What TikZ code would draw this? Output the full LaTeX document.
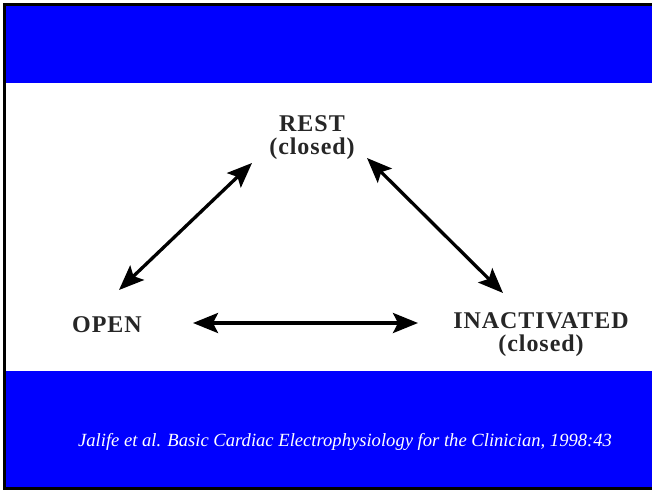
\documentclass[tikz,border=0pt]{standalone}
\usepackage{fontspec}
\setmainfont{Liberation Serif}
\usetikzlibrary{arrows.meta}
\definecolor{slideblue}{RGB}{0,0,255}
\tikzset{
  state/.style={font=\bfseries\fontsize{24}{23}\selectfont\addfontfeature{LetterSpace=4}, align=center, inner sep=0pt, text=black!85},
  arr/.style={line width=3.3pt, {Stealth[length=25pt,width=20pt,inset=5pt]}-{Stealth[length=25pt,width=20pt,inset=5pt]}},
  cite/.style={font=\itshape\fontsize{18.6}{18.6}\selectfont, text=white, inner sep=0pt}
}
\begin{document}
\begin{tikzpicture}[x=1pt,y=-1pt]
\useasboundingbox (0,0) rectangle (652,490);
% bands
\fill[slideblue] (5,5) rectangle (652,83);
\fill[white] (5,83) rectangle (652,371);
\fill[slideblue] (5,371) rectangle (652,488);
% frame
\fill[black] (3,3) rectangle (652,6);
\fill[black] (3,3) rectangle (6,489);
\fill[black] (3,487) rectangle (652,489.5);
% states
\node[state] (rest) at (312,137.5) {REST\\(closed)};
\node[state] (open) at (107,325) {OPEN};
\node[state] (inact) at (541,334.5) {INACTIVATED\\(closed)};
% arrow ends
\coordinate (o1) at ([shift={(12,-35)}]open.center);
\coordinate (r1) at ([shift={(-60,25.5)}]rest.center);
\coordinate (r2) at ([shift={(55,20.5)}]rest.center);
\coordinate (i1) at ([shift={(-38,-41.5)}]inact.center);
\coordinate (o2) at ([shift={(86,-2)}]open.center);
\coordinate (i2) at ([shift={(-123,-11.5)}]inact.center);
\draw[arr] (o1) -- (r1);
\draw[arr] (r2) -- (i1);
\draw[arr] (o2) -- (i2);
% citation
\node[cite] (citation) at (345,442) {Jalife et al. Basic Cardiac Electrophysiology for the Clinician, 1998:43};
\end{tikzpicture}
\end{document}
